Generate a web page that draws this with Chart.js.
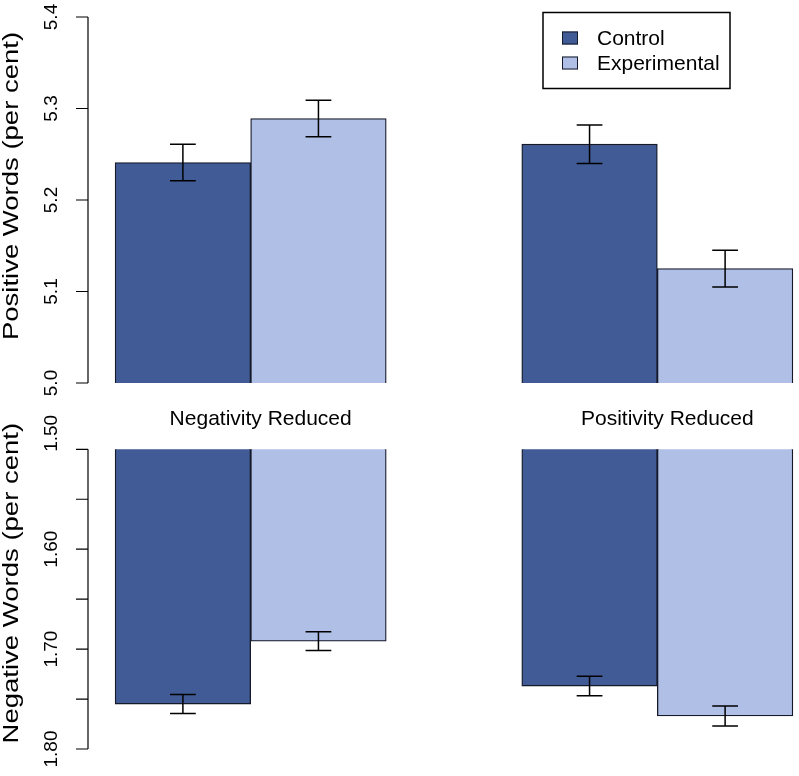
<!DOCTYPE html>
<html>
<head>
<meta charset="utf-8">
<script src="https://cdn.jsdelivr.net/npm/chart.js@4.4.1/dist/chart.umd.min.js"></script>
<style>
  html, body { margin: 0; padding: 0; background: #fff; overflow: hidden; }
  canvas { position: absolute; left: 0; }
  #posChart { top: 0; }
  #negChart { top: 400px; }
</style>
</head>
<body>
<canvas id="posChart" width="820" height="400"></canvas>
<canvas id="negChart" width="820" height="376"></canvas>
<script>
var groups = ['Negativity Reduced', 'Positivity Reduced'];
var seriesNames = ['Control', 'Experimental'];

// positive words (per cent), mean and standard error
var posControl = [5.241, 5.261];
var posExperimental = [5.289, 5.125];
var posControlErr = [0.020, 0.021];
var posExperimentalErr = [0.020, 0.020];

// negative words (per cent)
var negControl = [1.755, 1.737];
var negExperimental = [1.692, 1.767];
var negControlErr = [0.0095, 0.0097];
var negExperimentalErr = [0.0094, 0.010];

var posTicks = [5.0, 5.1, 5.2, 5.3, 5.4];
var posTickLabels = ['5.0', '5.1', '5.2', '5.3', '5.4'];
var negTicks = [1.50, 1.55, 1.60, 1.65, 1.70, 1.75, 1.80];
var negTickLabels = ['1.50', '', '1.60', '', '1.70', '', '1.80'];

var controlColor = '#405B96';
var experimentalColor = '#AFBFE5';
var edgeColor = '#161a28';
var fontFamily = '"Liberation Sans", Arial, Helvetica, sans-serif';

// barplot layout: one empty bar width before each group, bars side by side
function barX(g, i) { return 1 + g * 3 + i + 0.5; }
function groupX(g) { return 1 + g * 3 + 1; }
function toPoints(values, i) {
    return values.map(function (v, g) { return { x: barX(g, i), y: v }; });
}

// y axis drawn R style: line spanning the ticks, rotated labels
var rAxisPlugin = {
    id: 'rAxis',
    afterDraw: function (chart, args, opts) {
        var ctx = chart.ctx;
        var y = chart.scales.y;
        var left = chart.chartArea.left;
        ctx.save();
        ctx.strokeStyle = '#000';
        ctx.lineWidth = 1.2;
        ctx.beginPath();
        ctx.moveTo(left, y.getPixelForValue(opts.ticks[0]));
        ctx.lineTo(left, y.getPixelForValue(opts.ticks[opts.ticks.length - 1]));
        opts.ticks.forEach(function (t) {
            var py = y.getPixelForValue(t);
            ctx.moveTo(left - 12, py);
            ctx.lineTo(left, py);
        });
        ctx.stroke();
        ctx.fillStyle = '#000';
        ctx.textAlign = 'center';
        ctx.textBaseline = 'alphabetic';
        ctx.font = '19px ' + fontFamily;
        opts.ticks.forEach(function (t, k) {
            if (!opts.labels[k]) return;
            var py = y.getPixelForValue(t) + (k === 0 ? opts.firstShift : 0);
            ctx.save();
            ctx.translate(57, py);
            ctx.rotate(-Math.PI / 2);
            ctx.fillText(opts.labels[k], 0, 0);
            ctx.restore();
        });
        ctx.font = '22px ' + fontFamily;
        var mid = (y.getPixelForValue(opts.ticks[0]) + y.getPixelForValue(opts.ticks[opts.ticks.length - 1])) / 2;
        ctx.save();
        ctx.translate(18, mid + opts.titleShift);
        ctx.rotate(-Math.PI / 2);
        ctx.scale(1.25, 1);
        ctx.fillText(opts.title, 0, 0);
        ctx.restore();
        ctx.restore();
    }
};

var errorBarPlugin = {
    id: 'errorBars',
    afterDatasetsDraw: function (chart) {
        var ctx = chart.ctx;
        var y = chart.scales.y;
        ctx.save();
        ctx.strokeStyle = '#000';
        ctx.lineWidth = 1.5;
        chart.data.datasets.forEach(function (ds, d) {
            var meta = chart.getDatasetMeta(d);
            meta.data.forEach(function (el, j) {
                var v = ds.data[j].y;
                var e = ds.errors[j];
                var top = y.getPixelForValue(v + e);
                var bot = y.getPixelForValue(v - e);
                var cap = el.width * 0.095;
                ctx.beginPath();
                ctx.moveTo(el.x, top);
                ctx.lineTo(el.x, bot);
                ctx.moveTo(el.x - cap, top);
                ctx.lineTo(el.x + cap, top);
                ctx.moveTo(el.x - cap, bot);
                ctx.lineTo(el.x + cap, bot);
                ctx.stroke();
            });
        });
        ctx.restore();
    }
};

var legendBoxPlugin = {
    id: 'legendBox',
    afterDraw: function (chart) {
        var ctx = chart.ctx;
        ctx.save();
        ctx.strokeStyle = '#000';
        ctx.lineWidth = 1.5;
        ctx.strokeRect(543, 12.5, 187, 76);
        ctx.font = '21px ' + fontFamily;
        ctx.textBaseline = 'middle';
        ctx.textAlign = 'left';
        chart.data.datasets.forEach(function (ds, d) {
            var cy = 38 + d * 25;
            ctx.fillStyle = ds.backgroundColor;
            ctx.fillRect(562, cy - 6.5, 16, 13);
            ctx.lineWidth = 1;
            ctx.strokeStyle = edgeColor;
            ctx.strokeRect(562.5, cy - 6, 15, 12);
            ctx.fillStyle = '#000';
            ctx.fillText(ds.label, 597, cy + 1);
        });
        ctx.restore();
    }
};

var groupLabelPlugin = {
    id: 'groupLabels',
    afterDraw: function (chart) {
        var ctx = chart.ctx;
        var x = chart.scales.x;
        ctx.save();
        ctx.fillStyle = '#000';
        ctx.font = '21px ' + fontFamily;
        ctx.textAlign = 'center';
        ctx.textBaseline = 'alphabetic';
        groups.forEach(function (name, g) {
            ctx.fillText(name, x.getPixelForValue(groupX(g)) + 10, 25);
        });
        ctx.restore();
    }
};

function edgeTicks(scale) {
    scale.ticks = [1, 2, 3, 4, 5, 6].map(function (v) { return { value: v }; });
}

function makeOptions(yMin, yMax, reverse, padTop, padBottom, axis) {
    return {
        responsive: false,
        animation: false,
        layout: { padding: { left: 88, right: 0, top: padTop, bottom: padBottom } },
        datasets: {
            bar: {
                grouped: false,
                barPercentage: 1,
                categoryPercentage: 1,
                borderWidth: 1.3,
                borderColor: edgeColor,
                borderSkipped: false
            }
        },
        scales: {
            x: { type: 'linear', min: 0.8, max: 6.2, offset: false, display: false, afterBuildTicks: edgeTicks },
            y: { min: yMin, max: yMax, reverse: reverse, display: false }
        },
        plugins: {
            legend: { display: false },
            tooltip: { enabled: false },
            rAxis: axis
        }
    };
}

new Chart(document.getElementById('posChart'), {
    type: 'bar',
    data: {
        datasets: [
            { label: seriesNames[0], data: toPoints(posControl, 0), errors: posControlErr, backgroundColor: controlColor },
            { label: seriesNames[1], data: toPoints(posExperimental, 1), errors: posExperimentalErr, backgroundColor: experimentalColor }
        ]
    },
    options: makeOptions(5.0, 5.4, false, 17, 17, {
        ticks: posTicks, labels: posTickLabels, title: 'Positive Words (per cent)', firstShift: 0, titleShift: -14
    }),
    plugins: [rAxisPlugin, errorBarPlugin, legendBoxPlugin]
});

new Chart(document.getElementById('negChart'), {
    type: 'bar',
    data: {
        datasets: [
            { label: seriesNames[0], data: toPoints(negControl, 0), errors: negControlErr, backgroundColor: controlColor },
            { label: seriesNames[1], data: toPoints(negExperimental, 1), errors: negExperimentalErr, backgroundColor: experimentalColor }
        ]
    },
    options: makeOptions(1.5, 1.8, true, 49.3, 27, {
        ticks: negTicks, labels: negTickLabels, title: 'Negative Words (per cent)', firstShift: -16, titleShift: -16
    }),
    plugins: [rAxisPlugin, errorBarPlugin, groupLabelPlugin]
});
</script>
</body>
</html>
